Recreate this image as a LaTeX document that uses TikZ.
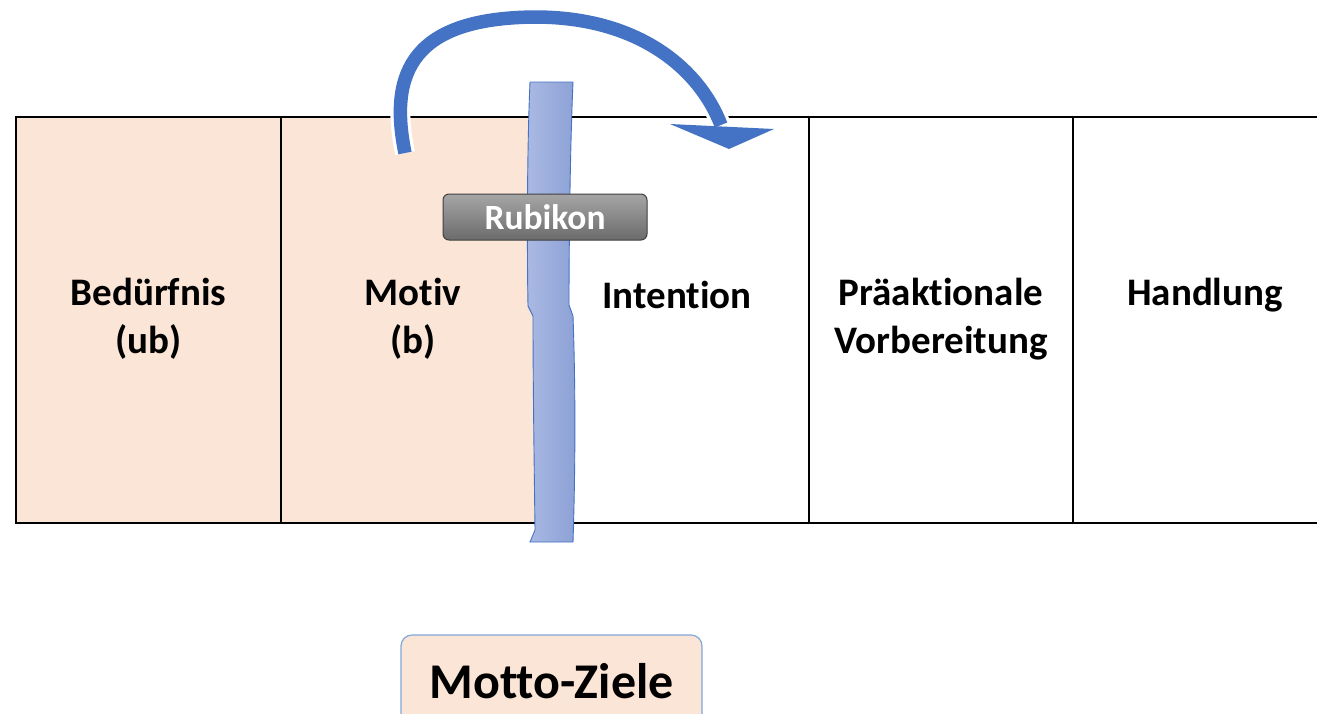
\documentclass[tikz,border=0pt]{standalone}
\usepackage{fontspec}
\setmainfont[RawFeature={-liga;-clig;-calt;-dlig}]{Carlito}
\usetikzlibrary{calc}
\definecolor{peach}{HTML}{FBE5D6}
\definecolor{accent}{HTML}{4472C4}
\definecolor{riverL}{HTML}{AAB9E3}
\definecolor{riverR}{HTML}{8CA1D6}
\definecolor{mottoline}{HTML}{7FA8DA}
% keeps "t" and "i" as separate glyphs
\newcommand{\sep}{\kern0pt }
\tikzset{
  cell/.style={draw=black, line width=2.4pt, minimum width=264pt, minimum height=406pt, inner sep=0pt},
  lbl/.style={align=center, font=\fontsize{39}{48}\selectfont\bfseries, inner sep=0pt},
  badge/.style={rounded corners=6pt, draw=black!75, line width=1pt, top color=black!35, bottom color=black!58,
    minimum width=204pt, minimum height=46pt, text=white, font=\fontsize{35.5}{40}\selectfont\bfseries},
  motto/.style={rounded corners=11pt, draw=mottoline, line width=1.2pt, fill=peach,
    minimum width=301pt, minimum height=92pt, font=\fontsize{50}{58}\selectfont\bfseries}
}
\begin{document}
\begin{tikzpicture}[x=1pt,y=-1pt]
\useasboundingbox (0,0) rectangle (1317,713);
\clip (0,0) rectangle (1317,713);
\fill[white] (0,0) rectangle (1317,713);

% phase cells
\node[cell, fill=peach, minimum width=265pt] (c1) at (148.5,320) {};
\node[cell, fill=peach] (c2) at (413,320) {};
\node[cell] (c3) at (677,320) {};
\node[cell] (c4) at (941,320) {};
\node[cell] (c5) at (1205,320) {};

% phase names
\node[lbl] (t1) at ($(c1.center)+(0,-1)$) {Bedürfnis\\(ub)};
\node[lbl] (t2) at ($(c2.center)+(0,-1)$) {Mot\sep iv\\(b)};
\node[lbl] (t3) at ($(c3.center)+(0,-25)$) {Intent\sep ion};
\node[lbl] (t4) at ($(c4.center)+(0,-1)$) {Präakt\sep ionale\\Vorbereitung};
\node[lbl] (t5) at ($(c5.center)+(0,-25)$) {Handlung};

% the river
\path[left color=riverL, right color=riverR, draw=accent, line width=0.9pt]
  (530,82) -- (573,82)
  .. controls (570,150) and (569,250) .. (569,305)
  -- (573,316)
  .. controls (576,400) and (575,480) .. (573,542)
  -- (530,542)
  -- (535,530)
  .. controls (534,450) and (533,380) .. (533,316)
  -- (528,306)
  .. controls (527,250) and (527,150) .. (530,82) -- cycle;

% curved arrow over the river
\coordinate (a0) at (405,153);
\coordinate (a1) at (535,17);
\coordinate (a2) at (721,125);
\coordinate (hL) at (670,124);
\coordinate (hR) at (774,129);
\coordinate (hT) at (729,149);
\draw[white, line width=20pt] (a0) .. controls (388,70) and (415,18) .. (a1)
  .. controls (640,17) and (700,70) .. (a2);
\draw[white, line width=5pt, line join=miter] (hL) -- (hR) -- (hT) -- cycle;
\draw[accent, line width=13.5pt] (a0) .. controls (388,70) and (415,18) .. (a1)
  .. controls (640,17) and (700,70) .. (a2);
\fill[accent] (hL) -- (hR) -- (hT) -- cycle;

% labels
\node[badge] (rub) at (545,217) {Rubikon};
\node[motto] (mz) at (551.5,681) {Motto-Ziele};
\end{tikzpicture}
\end{document}
